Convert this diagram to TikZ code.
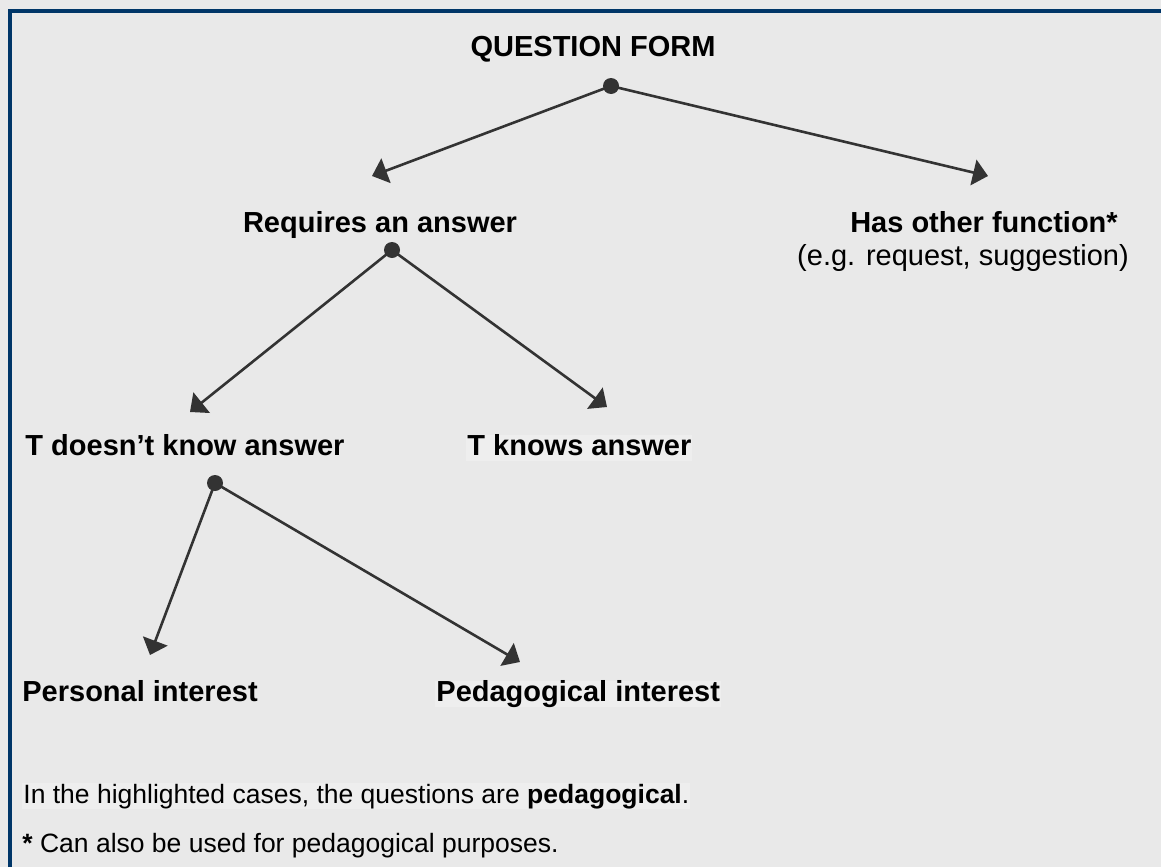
\documentclass[tikz,border=0pt]{standalone}
\usepackage{fontspec}
\setmainfont{Liberation Sans}
\usetikzlibrary{arrows.meta,positioning}
\definecolor{cframe}{RGB}{0,54,104}
\definecolor{cbg}{RGB}{233,233,233}
\definecolor{chl}{RGB}{238,238,238}
\definecolor{cline}{RGB}{51,51,51}

\begin{document}
\begin{tikzpicture}[x=0.5pt, y=-0.5pt,
    head/.style={font=\fontsize{14.5}{17}\selectfont\bfseries, inner sep=0pt, anchor=base},
    sub/.style={font=\fontsize{14.5}{17}\selectfont, inner sep=0pt, anchor=base},
    hl/.style={fill=chl, inner xsep=0.5pt, inner ysep=1pt, text height=.92em, text depth=.22em},
    note/.style={font=\fontsize{13.25}{16}\selectfont, inner sep=0pt, anchor=base west},
    branch/.style={draw=cline, line width=1.3pt, -{Triangle[length=7.5pt,width=13pt]}},
    dot/.style={circle, fill=cline, inner sep=0pt, minimum size=8pt}]
  \fill[cbg] (0,0) rectangle (1161,867);
  \useasboundingbox (0,0) rectangle (1161,867);
  \draw[cframe, line width=2pt] (10,867) -- (10,11) -- (1161,11);

  % labels
  \node[head] (qf) at (593,56) {QUESTION FORM};
  \node[head] (req) at (380,232) {Requires an answer};
  \node[head] (oth) at (984,232) {Has other function*};
  \node[sub] (eg) at (963,265) {(e.g. request, suggestion)};
  \node[head] (tnk) at (185,455) {T doesn’t know answer};
  \node[head, hl, anchor=base west] (tk) at (466,455) {T knows answer};
  \node[head, anchor=base west] (pers) at (22,701) {Personal interest};
  \node[head, hl, anchor=base west] (ped) at (435,701) {Pedagogical interest};
  \node[note, hl] (n1) at (22,803) {In the highlighted cases, the questions are \textbf{pedagogical}.};
  \node[note] (n2) at (22,852) {\textbf{*} Can also be used for pedagogical purposes.};

  % branch points and arrow ends
  \coordinate (dA) at (611,86);
  \coordinate (dB) at (392,250);
  \coordinate (dC) at (215,483);
  \coordinate (eReq) at (372,176);
  \coordinate (eOth) at (988,176);
  \coordinate (eTnk) at (190,412);
  \coordinate (eTk) at (607,407);
  \coordinate (ePers) at (150,655);
  \coordinate (ePed) at (520,662);

  \draw[branch] (dA) -- (eReq);
  \draw[branch] (dA) -- (eOth);
  \draw[branch] (dB) -- (eTnk);
  \draw[branch] (dB) -- (eTk);
  \draw[branch] (dC) -- (ePers);
  \draw[branch] (dC) -- (ePed);
  \foreach \d in {dA,dB,dC}
    \node[dot] at (\d) {};
\end{tikzpicture}
\end{document}
